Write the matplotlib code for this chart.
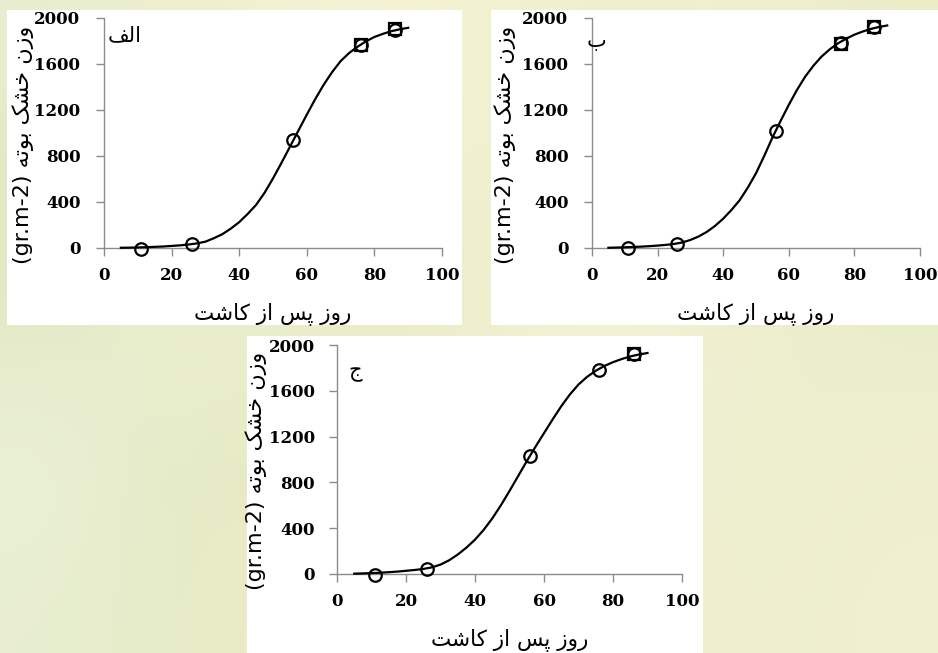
import numpy as np
import matplotlib.pyplot as plt
from matplotlib.patches import Rectangle

# observed points (days after sowing, dry weight g m-2)
obs_days = [11, 26, 56, 76, 86]
obs_a = [-5, 35, 940, 1765, 1900]
obs_b = [0, 37, 1020, 1780, 1925]
obs_c = [-5, 46, 1030, 1782, 1922]

# second series, only visible where it does not hide behind circles
sq_days_a = [76, 86]
sq_a = [1765, 1905]
sq_days_b = [76, 86]
sq_b = [1775, 1925]
sq_days_c = [86]
sq_c = [1925]

# fitted curves every 2.5 days
fit_days = [5, 7.5, 10, 12.5, 15, 17.5, 20, 22.5, 25, 27.5, 30, 32.5, 35, 37.5, 40, 42.5, 45, 47.5,
            50, 52.5, 55, 57.5, 60, 62.5, 65, 67.5, 70, 72.5, 75, 77.5, 80, 82.5, 85, 87.5, 90]
fit_a = [2, 3, 5, 7, 10, 13, 18, 23, 30, 40, 55, 85, 120, 168, 225, 296, 375, 480,
         605, 740, 880, 1020, 1160, 1295, 1420, 1530, 1625, 1695, 1750, 1797, 1835, 1862, 1885, 1902, 1915]
fit_b = [2, 4, 6, 9, 12, 16, 21, 27, 35, 48, 70, 100, 140, 192, 255, 330, 415, 525,
         650, 800, 960, 1105, 1245, 1375, 1490, 1585, 1665, 1728, 1780, 1820, 1855, 1882, 1905, 1922, 1935]
fit_c = [3, 5, 8, 11, 16, 21, 28, 35, 44, 58, 82, 120, 170, 230, 300, 385, 485, 600,
         725, 855, 985, 1110, 1230, 1350, 1465, 1568, 1655, 1722, 1775, 1817, 1850, 1877, 1900, 1917, 1930]

xticks = [0, 20, 40, 60, 80, 100]
yticks = [0, 400, 800, 1200, 1600, 2000]

# Persian text, pre-shaped in visual order
xlabel = "\uFE96\uFEB7\uFE8E\uFB90 \uFEAF\uFE8D \uFEB2\uFB58 \uFEAF\uFEED\uFEAD"
ylabel = "(gr.m-2) \uFEEA\uFE97\uFEEE\uFE91 \uFB8F\uFEB8\uFEA7 \uFEE5\uFEAF\uFEED"
tags = ["\uFED2\uFEDF\uFE8D", "\uFE8F", "\uFE9D"]

W, H = 938, 653
fig = plt.figure(figsize=(W / 100, H / 100), dpi=100)

# pale photo-like background
bg = np.array([
    [[234, 238, 208], [238, 239, 206], [246, 243, 214], [243, 242, 210], [238, 239, 204], [241, 241, 210], [234, 237, 200]],
    [[222, 231, 192], [234, 237, 202], [246, 243, 216], [238, 239, 206], [244, 241, 208], [236, 237, 202], [230, 235, 198]],
    [[227, 234, 200], [239, 241, 210], [228, 234, 198], [236, 237, 202], [246, 243, 216], [239, 239, 208], [234, 237, 202]],
    [[236, 241, 214], [224, 232, 194], [239, 236, 198], [246, 241, 208], [243, 243, 218], [234, 237, 204], [239, 239, 206]],
    [[232, 239, 208], [229, 234, 196], [244, 239, 202], [241, 239, 204], [246, 243, 212], [236, 237, 204], [241, 241, 208]],
]) / 255.0
bax = fig.add_axes([0, 0, 1, 1], zorder=-10)
bax.imshow(bg, aspect='auto', interpolation='bicubic', extent=[0, 1, 0, 1])
bax.set_axis_off()

# white panels
for x0, y0, x1, y1 in [(7, 10, 462, 325), (491, 10, 938, 325), (247, 336, 703, 653)]:
    fig.patches.append(Rectangle((x0 / W, 1 - y1 / H), (x1 - x0) / W, (y1 - y0) / H,
                                 transform=fig.transFigure, facecolor='white',
                                 edgecolor='none', zorder=-5))

panels = [
    # axes rect, fit, obs, squares, ylabel x, xlabel y, tag pos
    ([104 / W, 1 - 248 / H, 338 / W, 230 / H], fit_a, obs_a, (sq_days_a, sq_a), -0.24, -0.283, (6, 1850)),
    ([592 / W, 1 - 248 / H, 328 / W, 230 / H], fit_b, obs_b, (sq_days_b, sq_b), -0.265, -0.283, (1.5, 1810)),
    ([337 / W, 1 - 574 / H, 345 / W, 229 / H], fit_c, obs_c, (sq_days_c, sq_c), -0.235, -0.288, (5.2, 1765)),
]

axis_grey = '#8c8c8c'
for i, (rect, fit, obs, sq, ylx, xly, tagpos) in enumerate(panels):
    ax = fig.add_axes(rect)
    ax.patch.set_alpha(0)
    ax.plot(fit_days, fit, color='black', lw=1.6, clip_on=False, zorder=3)
    ax.plot(sq[0], sq[1], ls='none', marker='s', ms=8, mfc='none', mec='black', mew=1.6,
            clip_on=False, zorder=4)
    ax.plot(obs_days, obs, ls='none', marker='o', ms=9, mfc='none', mec='black', mew=1.6,
            clip_on=False, zorder=5)
    ax.set_xlim(0, 100)
    ax.set_ylim(0, 2000)
    ax.set_xticks(xticks)
    ax.set_yticks(yticks)
    for s in ['top', 'right']:
        ax.spines[s].set_visible(False)
    for s in ['left', 'bottom']:
        ax.spines[s].set_color(axis_grey)
        ax.spines[s].set_linewidth(1.0)
    ax.tick_params(direction='out', length=6, width=1.0, color=axis_grey)
    ax.tick_params(axis='x', pad=8)
    ax.tick_params(axis='y', pad=10 if i == 2 else 11)
    for lab in ax.get_xticklabels() + ax.get_yticklabels():
        lab.set_fontfamily('DejaVu Serif')
        lab.set_fontweight('bold')
        lab.set_fontsize(12)
    ax.text(ylx, 0.45, ylabel, transform=ax.transAxes, rotation=90, ha='center', va='center',
            fontsize=16, family=['DejaVu Sans'])
    ax.text(0.5, xly, xlabel, transform=ax.transAxes, ha='center', va='center',
            fontsize=15.5, family=['DejaVu Sans'])
    ax.text(tagpos[0], tagpos[1], tags[i], ha='center', va='center', fontsize=15,
            family=['DejaVu Sans'])

fig.savefig('out.png', dpi=100)
